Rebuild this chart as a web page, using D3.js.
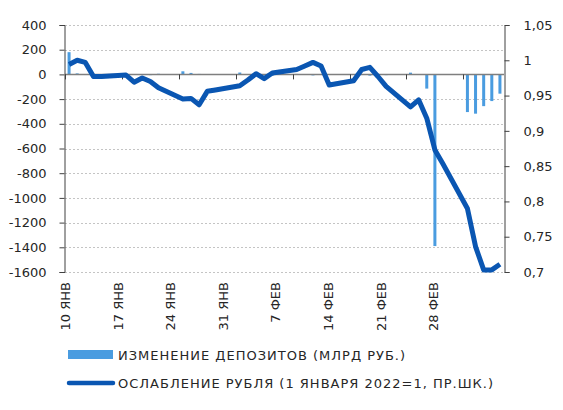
<!DOCTYPE html>
<html lang="ru">
<head>
<meta charset="UTF-8" />
<title>Депозиты и рубль</title>
<script src="https://cdn.jsdelivr.net/npm/d3@7"></script>
<style>
  body { margin: 0; background: #fff; }
  text { font-family: "DejaVu Sans", sans-serif; fill: #262626; }
</style>
</head>
<body>
<script>
// business days, 10 Jan - 4 Mar 2022
var days = ["2022-01-10","2022-01-11","2022-01-12","2022-01-13","2022-01-14",
            "2022-01-17","2022-01-18","2022-01-19","2022-01-20","2022-01-21",
            "2022-01-24","2022-01-25","2022-01-26","2022-01-27","2022-01-28",
            "2022-01-31","2022-02-01","2022-02-02","2022-02-03","2022-02-04",
            "2022-02-07","2022-02-08","2022-02-09","2022-02-10","2022-02-11",
            "2022-02-14","2022-02-15","2022-02-16","2022-02-17","2022-02-18",
            "2022-02-21","2022-02-22","2022-02-23","2022-02-24","2022-02-25",
            "2022-02-28","2022-03-01","2022-03-02","2022-03-03","2022-03-04"];
// change of deposits, bn rub (left axis)
var deposits = [180, 8, -5, 4, -3,
                3, -4, 2, -6, 5,
                25, 12, 4, -3, 2,
                15, -4, 3, -5, -10,
                4, -3, -8, 3, -4,
                2, -5, -10, 4, -6,
                14, 0, -115, -1390, 0,
                -305, -318, -257, -216, -156];
// rouble index, 1 Jan 2022 = 1 (right axis)
var rouble = [0.994, 1.000, 0.997, 0.977, 0.977,
              0.979, 0.969, 0.975, 0.970, 0.961,
              0.945, 0.946, 0.937, 0.956, 0.958,
              0.964, 0.972, 0.981, 0.974, 0.982,
              0.987, 0.992, 0.997, 0.992, 0.965,
              0.971, 0.987, 0.990, 0.977, 0.963,
              0.934, 0.944, 0.918, 0.873, 0.853,
              0.790, 0.736, 0.703, 0.703, 0.711];
var leftTicks = [400, 200, 0, -200, -400, -600, -800, -1000, -1200, -1400, -1600];
var rightTicks = [1.05, 1, 0.95, 0.9, 0.85, 0.8, 0.75, 0.7];
var tickDays = ["2022-01-10","2022-01-17","2022-01-24","2022-01-31","2022-02-07","2022-02-14","2022-02-21","2022-02-28"];
var tickLabels = ["10 ЯНВ","17 ЯНВ","24 ЯНВ","31 ЯНВ","7 ФЕВ","14 ФЕВ","21 ФЕВ","28 ФЕВ"];
var legendLabels = ["ИЗМЕНЕНИЕ ДЕПОЗИТОВ (МЛРД РУБ.)", "ОСЛАБЛЕНИЕ РУБЛЯ (1 ЯНВАРЯ 2022=1, ПР.ШК.)"];

var parse = d3.timeParse("%Y-%m-%d");
var barColor = "#4a9ce0";
var lineColor = "#0a56b2";

var W = 563, H = 410;
var pL = 65, pR = 504, pT = 25, pB = 272;

var svg = d3.select("body").append("svg")
    .attr("width", W)
    .attr("height", H);

var x = d3.scaleTime()
    .domain([parse("2022-01-10"), parse("2022-03-05")])
    .range([pL, pR]);
var yL = d3.scaleLinear().domain([-1600, 400]).range([pB, pT]);
var yR = d3.scaleLinear().domain([0.7, 1.05]).range([pB, pT]);
// labels are spaced a bit tighter than the ticks in the original
var xLab = d3.scalePoint().domain(tickLabels).range([65.7, 433.5]);

var mid = function(s) { return x(d3.timeHour.offset(parse(s), 12)); };

// grid
svg.append("g").selectAll("line")
    .data(leftTicks.filter(function(d) { return d !== 0; }))
    .enter().append("line")
    .attr("x1", pL).attr("x2", pR)
    .attr("y1", function(d) { return Math.round(yL(d)) + 0.5; })
    .attr("y2", function(d) { return Math.round(yL(d)) + 0.5; })
    .attr("stroke", "#c4c4c4")
    .attr("stroke-dasharray", "2,2");

// bars
svg.append("g").selectAll("rect")
    .data(days)
    .enter().append("rect")
    .attr("x", function(d) { return mid(d) - 1.5; })
    .attr("width", 3)
    .attr("y", function(d, i) { return yL(Math.max(0, deposits[i])); })
    .attr("height", function(d, i) { return Math.abs(yL(deposits[i]) - yL(0)); })
    .attr("fill", barColor);

// zero line + x ticks
var zero = yL(0);
svg.append("line")
    .attr("x1", pL).attr("x2", pR)
    .attr("y1", zero).attr("y2", zero)
    .attr("stroke", "#7f7f7f").attr("stroke-width", 1.5);
svg.append("g").selectAll("line")
    .data(tickDays)
    .enter().append("line")
    .attr("x1", function(d) { return Math.round(x(parse(d))) + 0.5; })
    .attr("x2", function(d) { return Math.round(x(parse(d))) + 0.5; })
    .attr("y1", zero).attr("y2", zero + 5)
    .attr("stroke", "#404040");

// rouble line
var line = d3.line()
    .x(function(d) { return mid(d); })
    .y(function(d, i) { return yR(rouble[i]); });
svg.append("path")
    .datum(days)
    .attr("d", line)
    .attr("fill", "none")
    .attr("stroke", lineColor)
    .attr("stroke-width", 5)
    .attr("stroke-linejoin", "round");

// axes
var axL = svg.append("g")
    .attr("transform", "translate(" + (pL - 0.5) + ",0)")
    .call(d3.axisLeft(yL).tickValues(leftTicks).tickSize(5).tickPadding(13).tickFormat(function(d) { return String(d); }));
var axR = svg.append("g")
    .attr("transform", "translate(" + (pR + 0.5) + ",0)")
    .call(d3.axisRight(yR).tickValues(rightTicks).tickSize(5).tickPadding(14)
      .tickFormat(function(d) { return String(d).replace(".", ","); }));
[axL, axR].forEach(function(a) {
  a.selectAll("path, line").attr("stroke", "#404040");
  a.selectAll("text").attr("font-size", 13).style("font-family", "DejaVu Sans, sans-serif").attr("fill", "#262626");
});

// x labels
svg.append("g").selectAll("text")
    .data(tickLabels)
    .enter().append("text")
    .attr("transform", function(d) { return "translate(" + xLab(d) + ",282) rotate(-90)"; })
    .attr("text-anchor", "end")
    .attr("dy", "0.35em")
    .attr("font-size", 13)
    .text(function(d) { return d; });

// legend
var lg = svg.append("g");
lg.append("rect").attr("x", 68).attr("y", 350).attr("width", 45).attr("height", 9).attr("fill", barColor);
lg.append("line").attr("x1", 69).attr("x2", 113).attr("y1", 383).attr("y2", 383)
    .attr("stroke", lineColor).attr("stroke-width", 4.5).attr("stroke-linecap", "round");
lg.selectAll("text")
    .data(legendLabels)
    .enter().append("text")
    .attr("x", 118)
    .attr("y", function(d, i) { return 355 + i * 28; })
    .attr("dy", "0.35em")
    .attr("font-size", 13)
    .style("letter-spacing", "1px")
    .text(function(d) { return d; });
</script>
</body>
</html>
